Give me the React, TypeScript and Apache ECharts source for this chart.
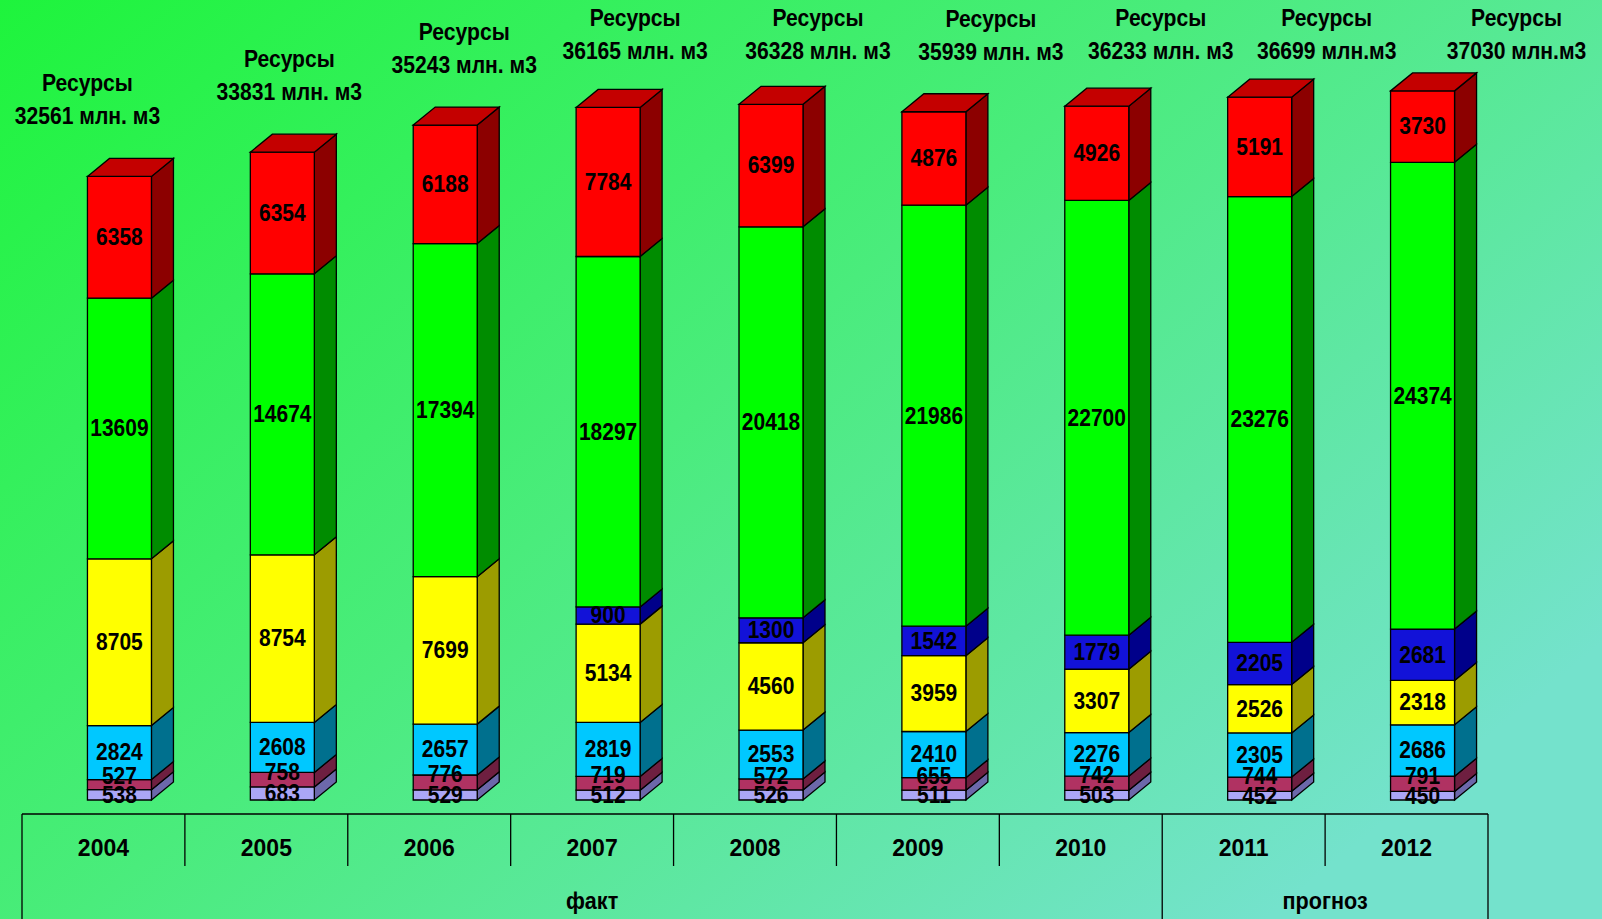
import React, { useEffect, useRef } from "react";
import * as echarts from "echarts";

// ---- data ----
const years = ["2004", "2005", "2006", "2007", "2008", "2009", "2010", "2011", "2012"];
const lavender = [538, 683, 529, 512, 526, 511, 503, 452, 450];
const maroon = [527, 758, 776, 719, 572, 655, 742, 744, 791];
const cyan = [2824, 2608, 2657, 2819, 2553, 2410, 2276, 2305, 2686];
const yellow = [8705, 8754, 7699, 5134, 4560, 3959, 3307, 2526, 2318];
const blue = [0, 0, 0, 900, 1300, 1542, 1779, 2205, 2681];
const green = [13609, 14674, 17394, 18297, 20418, 21986, 22700, 23276, 24374];
const red = [6358, 6354, 6188, 7784, 6399, 4876, 4926, 5191, 3730];
const totals = [32561, 33831, 35243, 36165, 36328, 35939, 36233, 36699, 37030];
const totalUnits = ["млн. м3", "млн. м3", "млн. м3", "млн. м3", "млн. м3", "млн. м3", "млн. м3", "млн.м3", "млн.м3"];
const totalTitle = "Ресурсы";
const periods = [
  { name: "факт", from: 0, to: 6 },
  { name: "прогноз", from: 7, to: 8 },
];

// ---- layout / style ----
const W = 1602;
const H = 919;
const GRID_LEFT = 22;
const GRID_RIGHT = 114;
const GRID_TOP = 34;
const GRID_BOTTOM = 119;
const Y_MAX = 40000;
const BAR_W = 64;
const BAR_SHIFT = 16;
const DX = 22;
const DY = 18;
const totalLabelShift = [-32, 7, 19, 27, 47, 57, 64, 67, 94];
const FONT = "'Liberation Sans', Arial, sans-serif";

const layers = [
  { name: "lavender", values: lavender, front: "#aba6f6", side: "#6c68aa", labelDy: 0 },
  { name: "maroon", values: maroon, front: "#b03262", side: "#6e1f40", labelDy: -8 },
  { name: "cyan", values: cyan, front: "#00c8ff", side: "#00708e", labelDy: 0 },
  { name: "yellow", values: yellow, front: "#ffff00", side: "#9c9c00", labelDy: 0 },
  { name: "blue", values: blue, front: "#1212d8", side: "#00008a", labelDy: 0 },
  { name: "green", values: green, front: "#00ff00", side: "#008c00", labelDy: 0 },
  { name: "red", values: red, front: "#ff0000", side: "#8c0000", top: "#c40000", labelDy: 0 },
];

const bases: number[][] = layers.map((_, L) =>
  years.map((_, i) => {
    let s = 0;
    for (let k = 0; k < L; k++) s += layers[k].values[i];
    return s;
  })
);

export default function App() {
  const ref = useRef<HTMLDivElement>(null);

  useEffect(() => {
    if (!ref.current) return;
    const chart = echarts.init(ref.current, null, { renderer: "svg" });

    const colW = (W - GRID_LEFT - GRID_RIGHT) / years.length;
    const tableTop = H - GRID_BOTTOM + 14;
    const yearRowBottom = tableTop + 52;

    const barSeries = layers.map((layer, L) => ({
      type: "custom",
      name: layer.name,
      z: 2,
      data: layer.values.map((v, i) => [i, bases[L][i], v]),
      renderItem: (params: any, api: any) => {
        const i = api.value(0);
        const b = api.value(1);
        const v = api.value(2);
        if (!v) return null;
        const p0 = api.coord([i, b]);
        const p1 = api.coord([i, b + v]);
        const cx = p0[0] + BAR_SHIFT;
        const x0 = cx - BAR_W / 2;
        const x1 = cx + BAR_W / 2;
        const yb = p0[1];
        const yt = p1[1];
        const stroke = { stroke: "#000", lineWidth: 1.3 };
        const children: any[] = [
          {
            type: "polygon",
            shape: { points: [[x1, yb], [x1 + DX, yb - DY], [x1 + DX, yt - DY], [x1, yt]] },
            style: { fill: layer.side, ...stroke },
          },
          {
            type: "rect",
            shape: { x: x0, y: yt, width: BAR_W, height: yb - yt },
            style: { fill: layer.front, ...stroke },
          },
        ];
        if (layer.top) {
          children.push({
            type: "polygon",
            shape: { points: [[x0, yt], [x0 + DX, yt - DY], [x1 + DX, yt - DY], [x1, yt]] },
            style: { fill: layer.top, ...stroke },
          });
        }
        return { type: "group", children };
      },
    }));

    const labelData: number[][] = [];
    layers.forEach((layer, L) =>
      layer.values.forEach((v, i) => {
        if (v) labelData.push([i, bases[L][i], v, L]);
      })
    );

    const labelSeries = {
      type: "custom",
      name: "labels",
      z: 5,
      data: labelData,
      renderItem: (params: any, api: any) => {
        const i = api.value(0);
        const b = api.value(1);
        const v = api.value(2);
        const L = api.value(3);
        const p0 = api.coord([i, b]);
        const p1 = api.coord([i, b + v]);
        return {
          type: "text",
          x: p0[0] + BAR_SHIFT,
          y: (p0[1] + p1[1]) / 2 + layers[L].labelDy,
          scaleY: 1.1,
          style: {
            text: String(v),
            x: 0,
            y: 0,
            align: "center",
            verticalAlign: "middle",
            fill: "#000",
            font: `bold 21px ${FONT}`,
          },
        };
      },
    };

    const totalSeries = {
      type: "custom",
      name: "totals",
      z: 5,
      data: totals.map((t, i) => [i, t]),
      renderItem: (params: any, api: any) => {
        const i = api.value(0);
        const t = api.value(1);
        const p = api.coord([i, t]);
        const x = p[0] + BAR_SHIFT + totalLabelShift[i];
        const y2 = Math.max(p[1] - 60, 51);
        const font = `bold 24px ${FONT}`;
        const mk = (text: string, y: number) => ({
          type: "text",
          x,
          y,
          scaleX: 0.88,
          style: { text, x: 0, y: 0, align: "center", verticalAlign: "middle", fill: "#000", font },
        });
        return {
          type: "group",
          children: [mk(totalTitle, y2 - 33), mk(`${t} ${totalUnits[i]}`, y2)],
        };
      },
    };

    const lineStyle = { stroke: "#000", lineWidth: 1.3 };
    const graphics: any[] = [];
    const xL = GRID_LEFT;
    const xR = GRID_LEFT + colW * years.length;
    graphics.push({ type: "line", shape: { x1: xL, y1: tableTop, x2: xR, y2: tableTop }, style: lineStyle });
    graphics.push({ type: "line", shape: { x1: xL, y1: tableTop, x2: xL, y2: H + 5 }, style: lineStyle });
    graphics.push({ type: "line", shape: { x1: xR, y1: tableTop, x2: xR, y2: H + 5 }, style: lineStyle });
    for (let k = 1; k < years.length; k++) {
      const x = GRID_LEFT + colW * k;
      const isPeriodBoundary = periods.some((p) => p.from === k);
      graphics.push({
        type: "line",
        shape: { x1: x, y1: tableTop, x2: x, y2: isPeriodBoundary ? H + 5 : yearRowBottom },
        style: lineStyle,
      });
    }
    periods.forEach((p) => {
      const cx = GRID_LEFT + colW * ((p.from + p.to + 1) / 2);
      graphics.push({
        type: "text",
        x: cx,
        y: 901,
        scaleX: 0.9,
        style: {
          text: p.name,
          x: 0,
          y: 0,
          align: "center",
          verticalAlign: "middle",
          fill: "#000",
          font: `bold 24px ${FONT}`,
        },
      });
    });

    const option: any = {
      animation: false,
      backgroundColor: new echarts.graphic.LinearGradient(0, 0, 1, 0.7, [
        { offset: 0, color: "#1ef43c" },
        { offset: 0.5, color: "#4aec7c" },
        { offset: 1, color: "#74e2cc" },
      ]),
      grid: { left: GRID_LEFT, right: GRID_RIGHT, top: GRID_TOP, bottom: GRID_BOTTOM },
      xAxis: {
        type: "category",
        data: years,
        axisLine: { show: false },
        axisTick: { show: false },
        splitLine: { show: false },
        axisLabel: {
          margin: 48,
          verticalAlign: "middle",
          color: "#000",
          fontSize: 23,
          fontWeight: "bold",
          fontFamily: FONT,
        },
      },
      yAxis: { type: "value", min: 0, max: Y_MAX, show: false },
      graphic: graphics,
      series: [...barSeries, labelSeries, totalSeries],
    };

    chart.setOption(option);
    return () => chart.dispose();
  }, []);

  return <div ref={ref} style={{ position: "fixed", left: 0, top: 0, width: W, height: H }} />;
}
